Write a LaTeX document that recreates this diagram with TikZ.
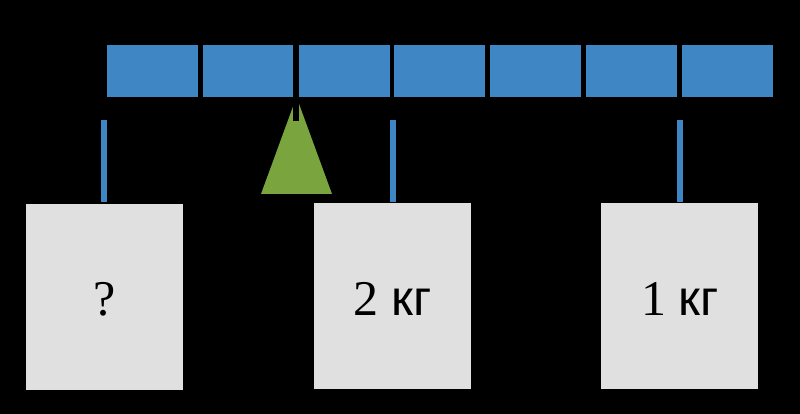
\documentclass[tikz,border=0pt]{standalone}
\usepackage{fontspec}
\setmainfont{Liberation Serif}
\newfontfamily\sansf{Liberation Sans}
\definecolor{barblue}{HTML}{3F87C4}
\definecolor{fulcrum}{HTML}{7AA43E}
\definecolor{boxgray}{HTML}{E0E0E0}
\begin{document}
\begin{tikzpicture}[x=1pt,y=-1pt,
  seg/.style={fill=barblue,draw=none,inner sep=0pt,minimum width=91pt,minimum height=51.7pt},
  weight/.style={fill=boxgray,draw=none,inner sep=0pt,minimum width=157pt,minimum height=186pt},
  wlabel/.style={anchor=base,inner sep=0pt,font=\fontsize{50}{54}\selectfont},
  hanger/.style={draw=barblue,line width=6pt},
  pin/.style={draw=black,line width=6pt}]
\fill[black] (0,0) rectangle (800,414);
\useasboundingbox (0,0) rectangle (800,414);
% lever segments
\foreach \i in {0,...,6}{
  \node[seg] (s\i) at ({152.5+95.8*\i},70.85) {};
}
% fulcrum
\coordinate (apex) at (296.5,97);
\coordinate (bl) at (261,194);
\coordinate (br) at (332,194);
\fill[fulcrum] (apex) -- (br) -- (bl) -- cycle;
\coordinate (pintop) at (296.2,45);
\coordinate (pinbot) at (296.2,121);
\draw[pin] (pintop) -- (pinbot);
% weights
\node[weight] (b1) at (104.85,297) {};
\node[weight] (b2) at (392.5,296.2) {};
\node[weight] (b3) at (679.3,296) {};
\node[wlabel] (t1) at (104.85,315) {?};
\node[wlabel] (t2) at (392.7,315) {2 {\sansf кг}};
\node[wlabel] (t3) at (680,315) {1 {\sansf кг}};
% hangers
\coordinate (h1) at (104.3,120.5);
\coordinate (h2) at (392.5,120.5);
\coordinate (h3) at (679.5,120.5);
\draw[hanger] (h1) -- (104.3,202);
\draw[hanger] (h2) -- (392.5,202);
\draw[hanger] (h3) -- (679.5,202);
\end{tikzpicture}
\end{document}
